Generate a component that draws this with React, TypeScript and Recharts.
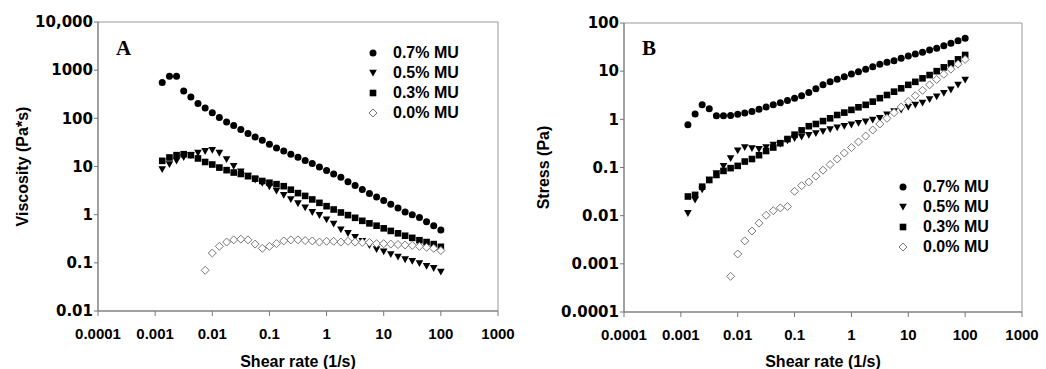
import React from 'react';
import { ScatterChart, Scatter, XAxis, YAxis, ReferenceArea, Legend } from 'recharts';

// shear rates (1/s), 8 points per decade
const SHEAR_RATES = [
  0.00133, 0.00178, 0.00237, 0.00316, 0.00422, 0.00562, 0.0075, 0.01, 0.0133, 0.0178,
  0.0237, 0.0316, 0.0422, 0.0562, 0.075, 0.1, 0.133, 0.178, 0.237, 0.316,
  0.422, 0.562, 0.75, 1, 1.33, 1.78, 2.37, 3.16, 4.22, 5.62,
  7.5, 10, 13.3, 17.8, 23.7, 31.6, 42.2, 56.2, 75, 100,
];
// the 0.0% sample starts at 0.0075 1/s
const SHEAR_RATES_00 = SHEAR_RATES.slice(6);

// panel A: viscosity (Pa*s)
const VISC_07 = [
  553, 747, 746, 371, 278, 203, 164, 130, 104, 84,
  71, 58.5, 48.4, 41, 35, 29, 24.3, 21, 18, 15.6,
  13.3, 11.5, 9.8, 8.3, 7.0, 6.0, 4.8, 4.05, 3.35, 2.75,
  2.32, 1.96, 1.65, 1.38, 1.14, 1.0, 0.875, 0.71, 0.59, 0.48,
];
const VISC_05 = [
  8.7, 11, 13, 15.4, 17, 19, 20.7, 21.9, 19, 14,
  10.2, 7.8, 6.4, 5.3, 4.5, 3.8, 3.1, 2.55, 2.07, 1.7,
  1.4, 1.12, 0.97, 0.79, 0.64, 0.49, 0.41, 0.34, 0.28, 0.23,
  0.19, 0.17, 0.15, 0.133, 0.117, 0.108, 0.097, 0.085, 0.077, 0.065,
];
const VISC_03 = [
  13.1, 15.4, 17.2, 18, 17.2, 14.7, 12.4, 11, 9.5, 8.4,
  7.5, 7.0, 6.3, 5.6, 5.0, 4.6, 4.3, 3.9, 3.3, 2.8,
  2.45, 2.07, 1.76, 1.5, 1.28, 1.11, 0.98, 0.86, 0.745, 0.66,
  0.59, 0.52, 0.46, 0.41, 0.365, 0.33, 0.295, 0.27, 0.245, 0.215,
];
const VISC_00 = [
  0.07, 0.16, 0.22, 0.27, 0.3, 0.31, 0.3, 0.245, 0.2, 0.22,
  0.25, 0.285, 0.3, 0.3, 0.29, 0.285, 0.27, 0.28, 0.28, 0.27,
  0.28, 0.27, 0.265, 0.265, 0.25, 0.25, 0.245, 0.24, 0.235, 0.23,
  0.22, 0.21, 0.2, 0.18,
];

// panel B: stress (Pa)
const STRESS_07 = [
  0.77, 1.29, 2.0, 1.65, 1.18, 1.18, 1.2, 1.27, 1.35, 1.45,
  1.62, 1.8, 2.0, 2.2, 2.45, 2.73, 3.1, 3.6, 4.3, 5.2,
  6.0, 6.8, 7.7, 8.7, 9.7, 11, 12.4, 13.9, 15.3, 16.5,
  18.5, 20.7, 22.7, 24.6, 27.5, 29.8, 33.8, 38, 43, 48,
];
const STRESS_05 = [
  0.0112, 0.0213, 0.0345, 0.055, 0.075, 0.107, 0.155, 0.224, 0.26, 0.25,
  0.24, 0.26, 0.295, 0.31, 0.36, 0.4, 0.43, 0.47, 0.51, 0.56,
  0.62, 0.67, 0.72, 0.77, 0.83, 0.89, 0.97, 1.05, 1.25, 1.45,
  1.57, 1.78, 2.0, 2.2, 2.6, 2.95, 3.5, 4.1, 5.2, 6.6,
];
const STRESS_03 = [
  0.025, 0.027, 0.04, 0.055, 0.07, 0.085, 0.097, 0.108, 0.133, 0.15,
  0.18, 0.22, 0.26, 0.32, 0.39, 0.48, 0.59, 0.72, 0.8, 0.92,
  1.05, 1.23, 1.38, 1.57, 1.78, 2.0, 2.33, 2.75, 3.2, 3.75,
  4.4, 5.2, 6.0, 7.1, 8.3, 10, 12, 14.5, 17.6, 21.7,
];
const STRESS_00 = [
  0.00055, 0.0016, 0.003, 0.0048, 0.007, 0.0102, 0.0127, 0.0145, 0.0155, 0.032,
  0.042, 0.05, 0.066, 0.088, 0.115, 0.15, 0.2, 0.26, 0.34, 0.45,
  0.6, 0.8, 1.05, 1.38, 1.8, 2.35, 3.1, 4.0, 5.2, 6.7,
  8.6, 11, 14, 17.5,
];

const SERIES_NAMES = ['0.7% MU', '0.5% MU', '0.3% MU', '0.0% MU'];
const X_TICKS = [0.0001, 0.001, 0.01, 0.1, 1, 10, 100, 1000];
const VISC_TICKS = [0.01, 0.1, 1, 10, 100, 1000, 10000];
const STRESS_TICKS = [0.0001, 0.001, 0.01, 0.1, 1, 10, 100];

const FONT = 'Arial, "Liberation Sans", sans-serif';
const WIDE_FONT = '"DejaVu Sans", Verdana, sans-serif'; // y tick labels are wider in the original
const AXIS = '#777';
const FRAME = '#999';

const zip = (xs: number[], ys: number[]) => ys.map((y, i) => ({ x: xs[i], y }));

// marker glyphs, positioned by the scatter's cx/cy
const MARKERS = [
  (cx: number, cy: number) => <circle cx={cx} cy={cy} r={3.5} fill="#000" />,
  (cx: number, cy: number) => (
    <path d={`M${cx - 3.8},${cy - 3.2}L${cx + 3.8},${cy - 3.2}L${cx},${cy + 3.6}Z`} fill="#000" />
  ),
  (cx: number, cy: number) => <rect x={cx - 3.3} y={cy - 3.3} width={6.6} height={6.6} fill="#000" />,
  (cx: number, cy: number) => (
    <path d={`M${cx},${cy - 4}L${cx + 4},${cy}L${cx},${cy + 4}L${cx - 4},${cy}Z`} fill="#fff" stroke="#777" strokeWidth={1} />
  ),
];

const fmt = (v: number) => (v === 10000 ? '10,000' : String(v));
const xTickStyle = { fontSize: 15, fontWeight: 700, fill: '#000', fontFamily: FONT };
const yTickStyle = { fontSize: 15, fontWeight: 700, fill: '#000', fontFamily: WIDE_FONT };
const titleStyle = { fontSize: 16, fontWeight: 700, fill: '#000', fontFamily: FONT };

function LegendBox() {
  return (
    <div style={{ fontFamily: FONT, fontSize: 16, fontWeight: 700, color: '#000' }}>
      {SERIES_NAMES.map((name, i) => (
        <div key={name} style={{ display: 'flex', alignItems: 'center', height: 20 }}>
          <svg width={14} height={20}>{MARKERS[i](7, 10)}</svg>
          <span style={{ marginLeft: 13, whiteSpace: 'nowrap' }}>{name}</span>
        </div>
      ))}
    </div>
  );
}

type PanelProps = {
  series: { x: number; y: number }[][];
  yDomain: [number, number];
  yTicks: number[];
  yLabel: string;
  width: number;
  margin: { top: number; right: number; bottom: number; left: number };
  yAxisWidth: number;
  xAxisHeight: number;
  yLabelOffset: number;
  legendPos: { left: number; top: number };
};

function Panel(p: PanelProps) {
  return (
    <ScatterChart width={p.width} height={369} margin={p.margin}>
      <ReferenceArea
        x1={0.0001}
        x2={1000}
        y1={p.yDomain[0]}
        y2={p.yDomain[1]}
        fill="none"
        stroke={FRAME}
        strokeWidth={1}
        ifOverflow="visible"
      />
      <XAxis
        type="number"
        dataKey="x"
        scale="log"
        domain={[0.0001, 1000]}
        ticks={X_TICKS}
        interval={0}
        allowDataOverflow
        tickFormatter={fmt}
        tick={xTickStyle}
        tickSize={5}
        tickMargin={12}
        height={p.xAxisHeight}
        axisLine={{ stroke: AXIS }}
        tickLine={{ stroke: AXIS }}
        label={{ value: 'Shear rate (1/s)', position: 'insideBottom', offset: 2, style: titleStyle }}
      />
      <YAxis
        type="number"
        dataKey="y"
        scale="log"
        domain={p.yDomain}
        ticks={p.yTicks}
        interval={0}
        allowDataOverflow
        tickFormatter={fmt}
        tick={yTickStyle}
        tickSize={4}
        tickMargin={1}
        width={p.yAxisWidth}
        axisLine={{ stroke: AXIS }}
        tickLine={{ stroke: AXIS }}
        label={{
          value: p.yLabel,
          angle: -90,
          position: 'insideLeft',
          offset: p.yLabelOffset,
          style: { ...titleStyle, textAnchor: 'middle' },
        }}
      />
      <Legend
        layout="vertical"
        align="center"
        verticalAlign="middle"
        content={<LegendBox />}
        wrapperStyle={{ left: p.legendPos.left, top: p.legendPos.top, width: 'auto' }}
      />
      {p.series.map((data, i) => (
        <Scatter
          key={SERIES_NAMES[i]}
          name={SERIES_NAMES[i]}
          data={data}
          isAnimationActive={false}
          shape={(s: any) => MARKERS[i](s.cx, s.cy)}
        />
      ))}
    </ScatterChart>
  );
}

export default function App() {
  const viscSeries = [
    zip(SHEAR_RATES, VISC_07),
    zip(SHEAR_RATES, VISC_05),
    zip(SHEAR_RATES, VISC_03),
    zip(SHEAR_RATES_00, VISC_00),
  ];
  const stressSeries = [
    zip(SHEAR_RATES, STRESS_07),
    zip(SHEAR_RATES, STRESS_05),
    zip(SHEAR_RATES, STRESS_03),
    zip(SHEAR_RATES_00, STRESS_00),
  ];

  return (
    <div style={{ position: 'absolute', left: 0, top: 0, width: 1046, height: 369, background: '#fff' }}>
      <div style={{ position: 'absolute', left: 0, top: 0 }}>
        <Panel
          series={viscSeries}
          yDomain={[0.01, 10000]}
          yTicks={VISC_TICKS}
          yLabel="Viscosity (Pa*s)"
          width={520}
          margin={{ top: 22, right: 22, bottom: 0, left: 0 }}
          yAxisWidth={98}
          xAxisHeight={58}
          yLabelOffset={22}
          legendPos={{ left: 366, top: 43 }}
        />
      </div>
      <div style={{ position: 'absolute', left: 520, top: 0 }}>
        <Panel
          series={stressSeries}
          yDomain={[0.0001, 100]}
          yTicks={STRESS_TICKS}
          yLabel="Stress (Pa)"
          width={526}
          margin={{ top: 23, right: 24, bottom: 0, left: 0 }}
          yAxisWidth={104}
          xAxisHeight={57}
          yLabelOffset={23}
          legendPos={{ left: 376, top: 177 }}
        />
      </div>
      <svg width={1046} height={369} style={{ position: 'absolute', left: 0, top: 0, pointerEvents: 'none' }}>
        <text x={116} y={55} fontFamily='"Liberation Serif", "Times New Roman", serif' fontWeight={700} fontSize={21}>
          A
        </text>
        <text x={642} y={55} fontFamily='"Liberation Serif", "Times New Roman", serif' fontWeight={700} fontSize={21}>
          B
        </text>
      </svg>
    </div>
  );
}
